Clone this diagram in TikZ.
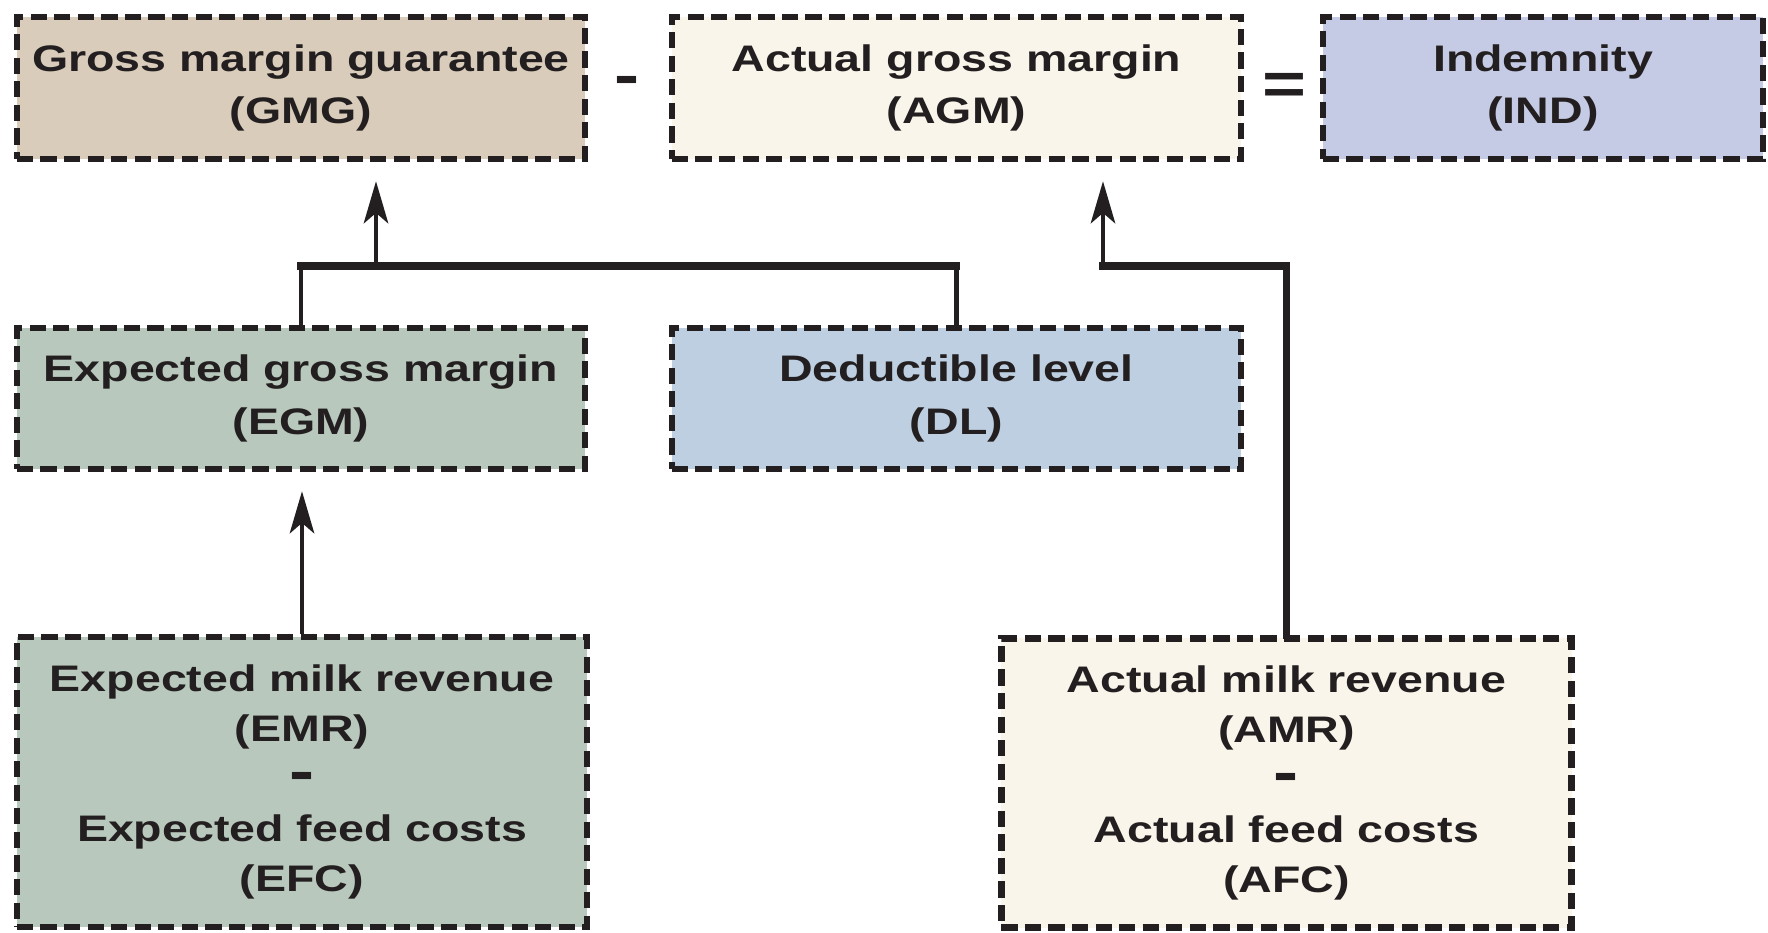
\documentclass[tikz,border=0pt]{standalone}
\usepackage{fontspec}
\setmainfont{Liberation Sans}[FakeStretch=1.26]
\usetikzlibrary{arrows.meta}
\definecolor{inkblack}{HTML}{231F20}
\definecolor{gmgtan}{HTML}{D9CCBA}
\definecolor{agmcream}{HTML}{F9F5EA}
\definecolor{indblue}{HTML}{C5CBE5}
\definecolor{egmsage}{HTML}{B8C8BD}
\definecolor{dlblue}{HTML}{BDCFE1}
\newcommand{\boxminus}{{\fontsize{17}{14.2}\selectfont -}}
\tikzset{
  box/.style={draw=inkblack, line width=1.85pt, dash pattern=on 4.6pt off 2.1pt,
    inner sep=0pt, align=center, text=inkblack,
    font=\fontsize{10.5}{15}\selectfont\bfseries},
  tallbox/.style={box, font=\fontsize{10.5}{14.2}\selectfont\bfseries},
  sign/.style={inner sep=0pt, text=inkblack, font=\fontsize{17}{17}\selectfont\bfseries},
  link/.style={draw=inkblack, line width=0.9pt,
    -{Stealth[length=12pt,width=7pt,inset=3pt]}, shorten >=5.4pt},
  riser/.style={draw=inkblack, line width=1.2pt},
  bar/.style={draw=inkblack, line width=2pt, line cap=rect}
}
\begin{document}
\begin{tikzpicture}[x=0.01cm, y=-0.01cm]
  \useasboundingbox (0,0) rectangle (1768,933);
  \node[box, fill=gmgtan, minimum width=5.68cm, minimum height=1.42cm] (gmg) at (301,88) {Gross margin guarantee\\(GMG)};
  \node[box, fill=agmcream, minimum width=5.69cm, minimum height=1.42cm] (agm) at (956.5,88) {Actual gross margin\\(AGM)};
  \node[box, fill=indblue, minimum width=4.40cm, minimum height=1.42cm] (ind) at (1543,88) {Indemnity\\(IND)};
  \node[sign] (minus) at (627,86) {-};
  \node[sign] (equals) at (1284,89) {=};
  \node[box, fill=egmsage, minimum width=5.68cm, minimum height=1.41cm] (egm) at (301,398.5) {Expected gross margin\\(EGM)};
  \node[box, fill=dlblue, minimum width=5.69cm, minimum height=1.41cm] (dl) at (956.5,398.5) {Deductible level\\(DL)};
  \node[tallbox, fill=egmsage, minimum width=5.70cm, minimum height=2.90cm] (emr) at (302,782) {Expected milk revenue\\(EMR)\\\boxminus\\Expected feed costs\\(EFC)};
  \node[tallbox, fill=agmcream, minimum width=5.70cm, minimum height=2.89cm] (amr) at (1286.5,783) {Actual milk revenue\\(AMR)\\\boxminus\\Actual feed costs\\(AFC)};
  \coordinate (gjoin) at (376,266);
  \coordinate (ajoin) at (1103,266);
  \draw[riser] (egm.north) -- (egm.north |- gjoin);
  \draw[riser] (dl.north) -- (dl.north |- gjoin);
  \draw[bar] (egm.north |- gjoin) -- (dl.north |- gjoin);
  \draw[link] (gjoin) -- (gjoin |- gmg.south);
  \draw[bar] (amr.north) -- (amr.north |- ajoin) -- (ajoin);
  \draw[link] (ajoin) -- (ajoin |- agm.south);
  \draw[link] (emr.north) -- (emr.north |- egm.south);
\end{tikzpicture}
\end{document}
